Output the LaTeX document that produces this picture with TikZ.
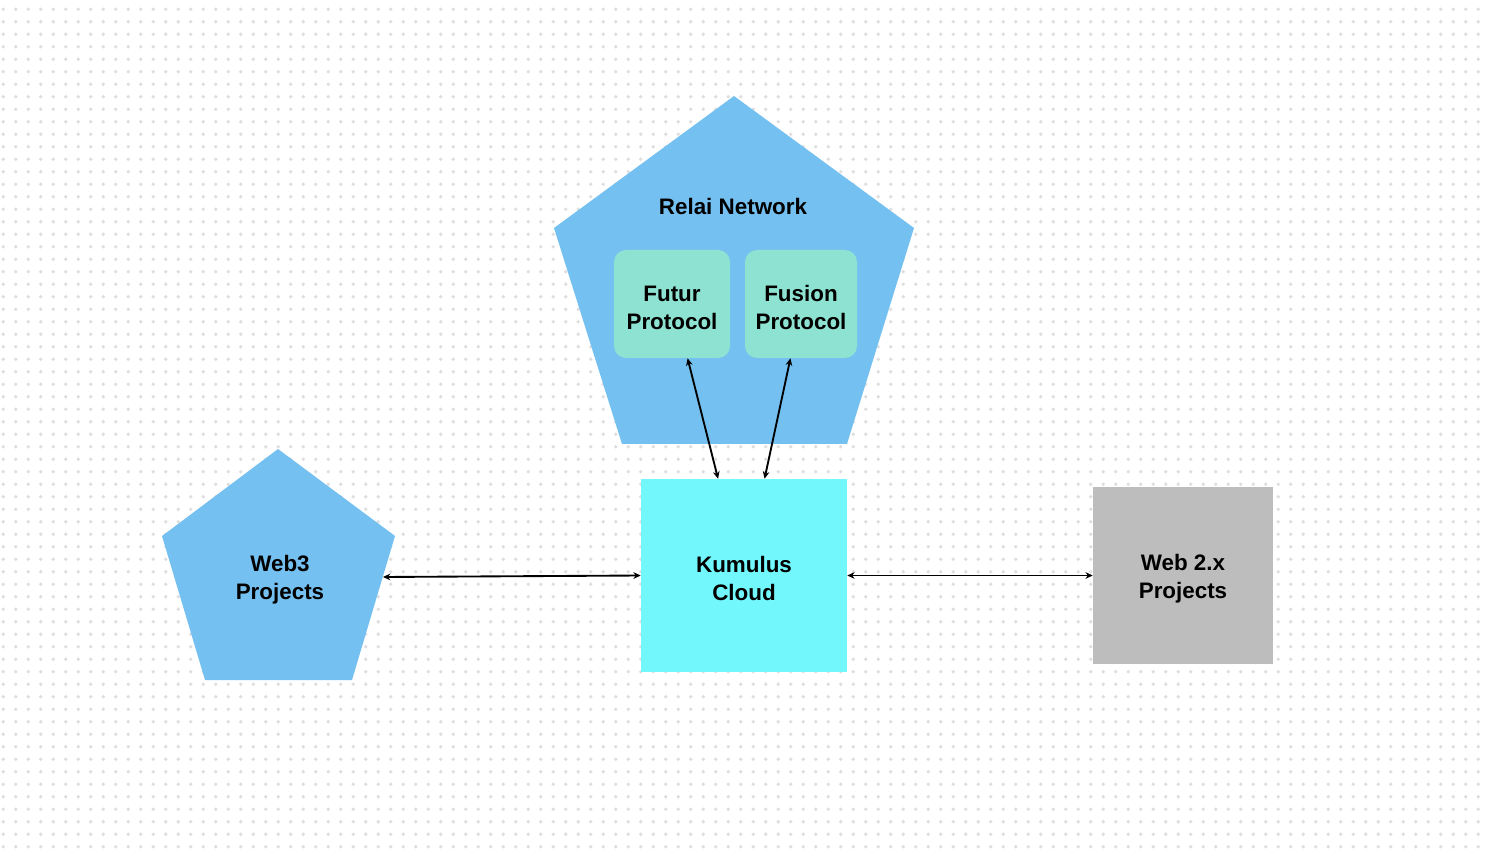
\documentclass[tikz,border=0pt]{standalone}
\usepackage{fontspec}
\setmainfont{Liberation Sans}
\usepackage{tikz}
\usetikzlibrary{arrows.meta, positioning}
\definecolor{relaiblue}{HTML}{74C0F0}
\definecolor{protogreen}{HTML}{8DE2D1}
\definecolor{kumcyan}{HTML}{72F8FC}
\definecolor{webgrey}{HTML}{BDBDBD}
\definecolor{dotgrey}{HTML}{DEDEDE}
\tikzstyle{lbl} = [text=black, align=center, font=\bfseries\fontsize{16.8}{21}\selectfont]
\tikzstyle{protobox} = [fill=protogreen, rounded corners=9pt, minimum height=108*0.75pt]
\tikzstyle{dotline} = [dotgrey, line width=2.8pt, line cap=round, dash pattern=on 0pt off 9.375pt]
\tikzstyle{link} = [black, line width=1.4pt, {Stealth[length=5.5pt,width=5pt]}-{Stealth[length=5.5pt,width=5pt]}]

\begin{document}
\begin{tikzpicture}[x=0.75pt,y=-0.75pt]

	\useasboundingbox (0,0) rectangle (1490,852);
	\fill[white] (0,0) rectangle (1490,852);

	% dotted background
	\foreach \j in {0,...,67}
		\draw[dotline] (3.3,9.3+12.5*\j) -- (1480,9.3+12.5*\j);

	% relai network
	\fill[relaiblue] (734,96) -- (914,228) -- (847,444) -- (622,444) -- (554,228) -- cycle;
	\node[lbl] (relai) at (733,206) {Relai Network};
	\node[protobox, minimum width=116*0.75pt] (futur) at (672,304) {};
	\node[lbl] (futurtxt) at (672,307.5) {Futur\\Protocol};
	\node[protobox, minimum width=112*0.75pt] (fusion) at (801,304) {};
	\node[lbl] (fusiontxt) at (801,307.5) {Fusion\\Protocol};

	% web3
	\fill[relaiblue] (278,449) -- (395,536) -- (352,680) -- (205,680) -- (162,536) -- cycle;
	\node[lbl] (web3) at (280,580) {Web3\\Projects};
	\coordinate (web3east) at (383,577);

	% kumulus and web 2
	\node[fill=kumcyan, minimum width=206*0.75pt, minimum height=193*0.75pt] (kumulus) at (744,575.5) {};
	\node[lbl] (kumtxt) at (744,578) {Kumulus\\Cloud};
	\node[fill=webgrey, minimum width=180*0.75pt, minimum height=177*0.75pt] (webtwo) at (1183,575.5) {};
	\node[lbl] (webtxt) at (1183,579) {Web 2.x\\Projects};

	% links
	\draw[link] (futur.-74.5) -- (kumulus.105);
	\draw[link] (fusion.-101.5) -- (kumulus.78.3);
	\draw[link] (web3east) -- (kumulus.west);
	\draw[link] (kumulus.east) -- (webtwo.west);
\end{tikzpicture}
\end{document}
